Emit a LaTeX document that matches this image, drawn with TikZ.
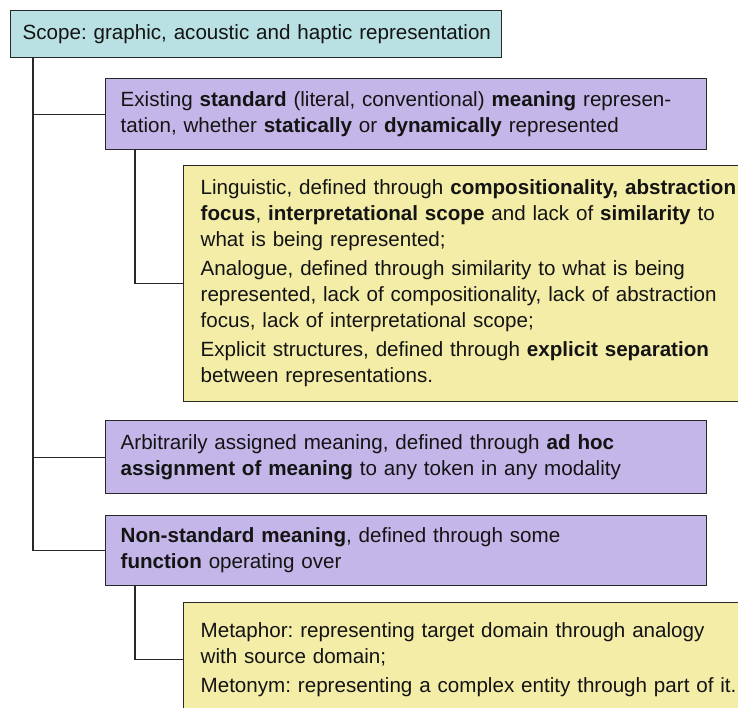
\documentclass[tikz,border=0pt]{standalone}
\usepackage{fontspec}
\setmainfont{Liberation Sans}
\frenchspacing
\definecolor{cyanfill}{RGB}{185,224,226}
\definecolor{purplefill}{RGB}{196,182,232}
\definecolor{yellowfill}{RGB}{243,237,168}
\definecolor{edgecol}{RGB}{40,40,40}
\definecolor{textcol}{RGB}{20,20,20}
\begin{document}
\begin{tikzpicture}[x=1pt,y=-1pt,
  font=\fontsize{20.6}{26}\selectfont\frenchspacing,
  box/.style={draw=edgecol, line width=1.3pt, anchor=north west, align=left, inner ysep=0pt, text=textcol},
  topbox/.style={box, fill=cyanfill, inner xsep=12pt},
  purplebox/.style={box, fill=purplefill, inner xsep=15pt, minimum width=601pt, text width=571pt},
  yellowbox/.style={box, fill=yellowfill, inner xsep=17pt, minimum width=620pt, text width=586pt},
  link/.style={draw=edgecol, line width=1.3pt}]
\useasboundingbox (0,0) rectangle (738,707);
\fill[white] (0,0) rectangle (738,707);

\node[topbox, minimum width=491pt, text width=467pt, minimum height=47pt] (top) at (10,10)
  {\mbox{Scope: graphic, acoustic and haptic representation}};

\node[purplebox, minimum height=71pt] (b2) at (105,78)
  {Existing \textbf{standard} (literal, conventional) \textbf{meaning} represen-\\
   tation, whether \textbf{statically} or \textbf{dynamically} represented};

\node[yellowbox, minimum height=236pt] (y1) at (183,165)
  {Linguistic, defined through \textbf{compositionality, abstraction}\\
   \textbf{focus}, \textbf{interpretational scope} and lack of \textbf{similarity} to\\
   what is being represented;\\[3pt]
   Analogue, defined through similarity to what is being\\
   represented, lack of compositionality, lack of abstraction\\
   focus, lack of interpretational scope;\\[3pt]
   Explicit structures, defined through \textbf{explicit separation}\\
   between representations.};

\node[purplebox, minimum height=73pt] (b3) at (105,420)
  {Arbitrarily assigned meaning, defined through \textbf{ad hoc}\\
   \textbf{assignment of meaning} to any token in any modality};

\node[purplebox, minimum height=70pt] (b4) at (105,515)
  {\textbf{Non-standard meaning}, defined through some\\
   \textbf{function} operating over};

\node[yellowbox, minimum height=114pt] (y2) at (183,602)
  {Metaphor: representing target domain through analogy\\
   with source domain;\\[3pt]
   Metonym: representing a complex entity through part of it.};

\coordinate (trunk) at ([xshift=23pt]top.south west);
\coordinate (sub1) at ([xshift=30pt]b2.south west);
\coordinate (sub2) at ([xshift=30pt]b4.south west);

\draw[link] (trunk) |- (b4.west);
\draw[link] (trunk |- b2.west) -- (b2.west);
\draw[link] (trunk |- b3.west) -- (b3.west);
\draw[link] (sub1) |- (y1.west);
\draw[link] (sub2) |- (y2.west);
\end{tikzpicture}
\end{document}
